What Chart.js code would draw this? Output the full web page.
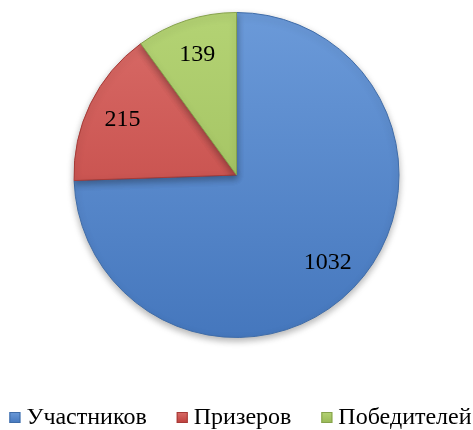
<!DOCTYPE html>
<html>
<head>
<meta charset="utf-8">
<script src="https://cdn.jsdelivr.net/npm/chart.js@4/dist/chart.umd.min.js"></script>
<style>
  html, body { margin:0; padding:0; background:#fff; }
  #wrap { width:473px; height:430px; }
</style>
</head>
<body>
<div id="wrap"><canvas id="chart-pie"></canvas></div>
<script>
const labels = ['Участников', 'Призеров', 'Победителей'];
const values = [1032, 215, 139];
const colorsTop = ['#6b9ad9', '#d96c68', '#b4d374'];
const colorsBot = ['#4577bd', '#bd3f3c', '#98b856'];
const borders   = ['#3f6ca8', '#a63a37', '#86a24c'];
const FONT = 'Liberation Serif';

// gradiente vertical por sector
function grad(ctx, i) {
  const chart = ctx.chart;
  const a = chart.chartArea;
  if (!a) return colorsBot[i];
  const g = chart.ctx.createLinearGradient(0, a.top, 0, a.bottom);
  g.addColorStop(0, colorsTop[i]);
  g.addColorStop(1, colorsBot[i]);
  return g;
}

// sombra suave bajo los sectores
const pieShadow = {
  id: 'pieShadow',
  beforeDatasetsDraw(chart) {
    const ctx = chart.ctx;
    ctx.save();
    ctx.shadowColor = 'rgba(0,0,0,0.3)';
    ctx.shadowBlur = 7;
    ctx.shadowOffsetY = 3;
  },
  afterDatasetsDraw(chart) {
    chart.ctx.restore();
  }
};

// valores dentro de cada sector
const valueLabels = {
  id: 'valueLabels',
  afterDatasetsDraw(chart) {
    const ctx = chart.ctx;
    const meta = chart.getDatasetMeta(0);
    ctx.save();
    ctx.font = '24px ' + FONT;
    ctx.fillStyle = '#000';
    ctx.textAlign = 'center';
    ctx.textBaseline = 'middle';
    meta.data.forEach((arc, i) => {
      const p = arc.getProps(['x','y','startAngle','endAngle','outerRadius'], true);
      const mid = (p.startAngle + p.endAngle) / 2;
      const r = p.outerRadius * 0.78;
      ctx.fillText(String(values[i]), p.x + Math.cos(mid) * r, p.y + Math.sin(mid) * r);
    });
    ctx.restore();
  }
};

// leyenda inferior (cuadro + texto, espaciado como en el original)
const bottomLegend = {
  id: 'bottomLegend',
  afterDraw(chart) {
    const ctx = chart.ctx;
    const box = 11, gapBox = 6, gapItem = 30, base = 424;
    ctx.save();
    ctx.font = '24px ' + FONT;
    ctx.textBaseline = 'alphabetic';
    ctx.textAlign = 'left';
    const widths = labels.map(l => ctx.measureText(l).width);
    const total = widths.reduce((s,w)=>s+w,0) + labels.length*(box+gapBox) + (labels.length-1)*gapItem;
    let x = (chart.width - total) / 2 + 4;
    labels.forEach((l, i) => {
      const y = base - 12;
      const g = ctx.createLinearGradient(0, y, 0, y + box);
      g.addColorStop(0, colorsTop[i]);
      g.addColorStop(1, colorsBot[i]);
      ctx.fillStyle = g;
      ctx.fillRect(x, y, box, box);
      ctx.strokeStyle = borders[i];
      ctx.lineWidth = 1;
      ctx.strokeRect(x + 0.5, y + 0.5, box - 1, box - 1);
      ctx.fillStyle = '#000';
      ctx.fillText(l, x + box + gapBox, base);
      x += box + gapBox + widths[i] + gapItem;
    });
    ctx.restore();
  }
};

new Chart(document.getElementById('chart-pie'), {
  type: 'pie',
  data: {
    labels: labels,
    datasets: [{
      data: values,
      backgroundColor: ctx => grad(ctx, ctx.dataIndex),
      borderColor: borders,
      borderWidth: 1
    }]
  },
  options: {
    responsive: true,
    maintainAspectRatio: false,
    animation: false,
    layout: { padding: { top: 12, bottom: 92 } },
    plugins: {
      tooltip: { enabled: false },
      legend: { display: false }
    }
  },
  plugins: [pieShadow, valueLabels, bottomLegend]
});
</script>
</body>
</html>
